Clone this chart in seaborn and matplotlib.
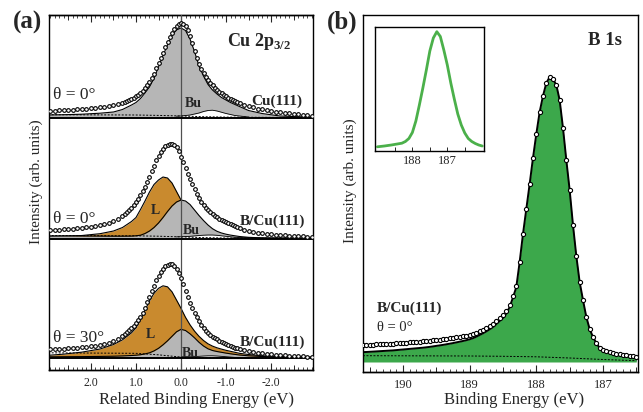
import numpy as np
import matplotlib
matplotlib.use("Agg")
import matplotlib.pyplot as plt
import seaborn as sns
from matplotlib.ticker import MultipleLocator, NullLocator

sns.set_style("white")
plt.rcParams['font.family'] = ['Liberation Serif', 'DejaVu Sans']
plt.rcParams['mathtext.fontset'] = 'custom'
plt.rcParams['mathtext.rm'] = 'Liberation Serif'
plt.rcParams['mathtext.bf'] = 'Liberation Serif:bold'
plt.rcParams['axes.linewidth'] = 1.0
plt.rcParams['axes.edgecolor'] = 'black'

# ---------------- panel (a): Cu 2p3/2, related binding energy (eV) ----------------
DATA_X = [2.9, 2.8, 2.7, 2.6, 2.5, 2.4, 2.3, 2.2, 2.1, 2.0, 1.9, 1.8, 1.7, 1.6, 1.5, 1.4, 1.3,
          1.25, 1.2, 1.15, 1.1, 1.05, 1.0, 0.95, 0.9, 0.85, 0.8, 0.75, 0.7, 0.65, 0.6, 0.55,
          0.5, 0.45, 0.4, 0.35, 0.3, 0.25, 0.2, 0.15, 0.1, 0.05, 0.0,
          -0.05, -0.1, -0.15, -0.2, -0.25, -0.3, -0.35, -0.4, -0.45, -0.5, -0.55, -0.6, -0.65,
          -0.7, -0.75, -0.8, -0.85, -0.9, -0.95, -1.0, -1.05, -1.1, -1.15, -1.2, -1.25,
          -1.3, -1.4, -1.5, -1.6, -1.7, -1.8, -1.9, -2.0, -2.1, -2.2, -2.3, -2.4, -2.5, -2.6,
          -2.7, -2.8, -2.9]

# measured spectra (intensity above each spectrum's base line)
cu111_data = [7.2, 7.5, 7.8, 8.0, 8.2, 8.4, 8.7, 9.0, 9.4, 9.8, 10.3, 10.8, 11.3, 12.0, 12.8, 13.8, 15.2,
              16.3, 17.2, 18.2, 19.3, 20.5, 21.8, 23.0, 25.0, 27.0, 29.7, 32.8, 36.2, 39.7, 44.5, 49.5,
              54.7, 60.0, 65.3, 70.5, 76.0, 80.8, 85.0, 88.5, 91.5, 93.5, 94.7,
              94.2, 92.3, 87.5, 81.5, 75.0, 66.5, 60.0, 53.8, 49.0, 44.7, 41.2, 38.0, 35.3,
              32.7, 30.2, 28.3, 26.5, 24.7, 23.0, 21.6, 20.3, 19.0, 17.8, 16.7, 15.6,
              14.8, 13.3, 12.0, 10.8, 9.5, 8.7, 8.0, 7.3, 6.5, 5.8, 5.2, 4.7, 4.2, 3.7, 3.2, 2.8, 2.5]
bcu_0_data = [8.4, 8.7, 9.0, 9.3, 9.6, 9.9, 10.2, 10.6, 11.1, 11.7, 12.4, 13.2, 14.3, 15.8, 17.5, 19.9, 22.8,
              24.5, 26.4, 28.3, 30.2, 33.3, 36.5, 39.8, 43.2, 47.1, 51.8, 56.6, 61.8, 67.3, 73.0, 78.2,
              82.5, 86.6, 89.8, 92.2, 93.9, 94.9, 95.0, 93.8, 91.2, 87.3, 82.0,
              76.5, 70.8, 65.0, 59.5, 54.2, 49.3, 44.8, 40.8, 37.0, 33.6, 30.8, 28.3, 26.1,
              24.2, 22.7, 21.3, 20.0, 18.8, 17.6, 16.5, 15.4, 14.3, 13.3, 12.4, 11.6,
              10.8, 9.0, 7.6, 6.6, 5.9, 5.3, 4.8, 4.3, 3.8, 3.4, 3.1, 2.8, 2.6, 2.4, 2.2, 2.0, 1.8]
bcu_30_data = [8.9, 9.2, 9.5, 9.8, 10.1, 10.4, 10.6, 11.0, 11.5, 12.0, 12.6, 13.2, 14.3, 15.8, 17.5, 19.8, 22.7,
               24.4, 26.3, 28.2, 30.0, 32.8, 35.7, 38.6, 41.5, 45.3, 50.5, 56.0, 61.6, 67.2, 72.8, 78.0,
               82.0, 86.5, 89.7, 92.0, 93.6, 94.6, 94.6, 92.3, 89.0, 85.0, 80.0,
               74.5, 67.2, 61.0, 55.8, 50.6, 45.6, 41.0, 37.0, 33.6, 30.3, 27.5, 25.2, 23.3,
               21.6, 20.3, 19.0, 17.8, 16.6, 15.5, 14.5, 13.5, 12.4, 11.5, 10.8, 10.2,
               9.6, 8.5, 7.3, 6.4, 5.6, 5.0, 4.5, 4.0, 3.6, 3.2, 2.9, 2.6, 2.4, 2.1, 1.9, 1.7, 1.5]

# fitted components
COMP_X = [2.95, 2.6, 2.2, 1.8, 1.5, 1.3, 1.1, 1.0, 0.9, 0.8, 0.7, 0.6, 0.5, 0.4, 0.3, 0.2, 0.1, 0.0,
          -0.1, -0.2, -0.3, -0.4, -0.5, -0.6, -0.7, -0.8, -0.9, -1.0, -1.1, -1.3, -1.5, -1.8, -2.2, -2.6, -2.95]
cu111_bu = [3.0, 3.3, 3.8, 4.8, 6.0, 8.5, 13.0, 15.5, 19.5, 25.0, 31.0, 39.5, 51.0, 62.5, 73.0, 82.5, 88.0, 90.0,
            87.5, 79.0, 66.5, 52.0, 42.0, 33.5, 28.0, 24.0, 20.5, 18.0, 15.5, 11.5, 7.5, 4.5, 2.0, 1.3, 0.8]
bcu_0_L = [2.0, 2.4, 3.0, 4.8, 7.5, 11.0, 17.0, 21.0, 29.0, 37.5, 46.5, 54.0, 58.5, 61.5, 60.5, 55.5, 47.0, 38.5,
           30.5, 23.5, 17.5, 12.5, 8.5, 5.8, 4.0, 3.0, 2.3, 1.8, 1.4, 1.0, 0.7, 0.5, 0.3, 0.2, 0.1]
bcu_0_bu = [2.6, 2.6, 2.5, 2.4, 2.3, 2.3, 2.4, 2.7, 3.3, 5.0, 7.5, 11.0, 15.5, 21.0, 27.0, 32.5, 36.5, 38.5,
            37.5, 34.0, 28.5, 23.0, 18.0, 13.5, 9.8, 7.2, 5.5, 4.3, 3.4, 2.0, 1.2, 0.6, 0.4, 0.3, 0.2]
bcu_30_L = [3.0, 4.2, 6.2, 9.3, 13.8, 18.5, 25.5, 30.5, 38.5, 48.0, 57.5, 65.0, 70.0, 72.5, 71.5, 66.5, 58.3, 50.0,
            41.0, 33.5, 27.2, 22.0, 17.8, 14.5, 12.2, 10.5, 9.2, 8.0, 7.0, 5.0, 3.8, 2.5, 1.8, 1.5, 1.3]
bcu_30_bu = [1.5, 1.6, 1.7, 1.9, 2.1, 2.4, 2.8, 3.1, 3.6, 4.4, 5.5, 7.4, 10.0, 13.5, 17.5, 22.0, 26.5, 29.0,
             27.8, 24.5, 20.5, 16.0, 12.3, 9.5, 7.8, 6.8, 6.0, 5.2, 4.5, 3.3, 2.5, 1.8, 1.3, 1.0, 0.8]

BUMP_X = [0.1, 0.0, -0.2, -0.4, -0.5, -0.6, -0.7, -0.8, -1.0, -1.2, -1.5]
cu111_bump = [1.8, 2.0, 3.0, 5.0, 6.5, 7.5, 7.8, 7.0, 4.5, 2.5, 1.0]
bcu_0_bump = [1.6, 1.7, 2.2, 3.0, 3.3, 3.5, 3.5, 3.2, 2.2, 1.2, 0.5]
bcu_30_bump = [1.0, 1.1, 1.5, 2.0, 2.3, 2.5, 2.5, 2.3, 1.6, 0.9, 0.4]

BG_X = [2.95, 1.0, 0.5, 0.0, -0.5, -1.0, -2.95]
cu111_bg = [3.3, 3.0, 2.6, 2.0, 1.3, 0.9, 0.3]
bcu_0_bg = [3.0, 2.7, 2.3, 1.6, 0.9, 0.5, 0.1]
bcu_30_bg = [5.5, 5.0, 3.5, 1.2, 0.6, 0.4, 0.1]

A_TICKS = [2, 1, 0, -1, -2]
A_TICKLABELS = ["2.0", "1.0", "0.0", "-1.0", "-2.0"]
A_HALF = [2.5, 1.5, 0.5, -0.5, -1.5, -2.5]

# ---------------- panel (b): B 1s ----------------
B_X = [190.6, 190.55, 190.5, 190.45, 190.4, 190.35, 190.3, 190.25, 190.2, 190.15, 190.1, 190.05, 190.0,
       189.95, 189.9, 189.85, 189.8, 189.75, 189.7, 189.65, 189.6, 189.55, 189.5,
       189.45, 189.4, 189.35, 189.3, 189.25, 189.2, 189.15, 189.1, 189.05, 189.0,
       188.95, 188.9, 188.85, 188.8, 188.75, 188.7, 188.65, 188.6, 188.55, 188.5,
       188.45, 188.4, 188.35, 188.3, 188.25, 188.2, 188.15, 188.1, 188.05, 188.0,
       187.95, 187.9, 187.85, 187.8, 187.75, 187.7, 187.65, 187.6, 187.55, 187.5,
       187.45, 187.4, 187.35, 187.3, 187.25, 187.2, 187.15, 187.1, 187.05, 187.0,
       186.95, 186.9, 186.85, 186.8, 186.75, 186.7, 186.65, 186.6, 186.55, 186.5]
b1s_data = [17.0, 17.0, 17.0, 17.0, 17.5, 17.5, 17.5, 18.0, 18.0, 18.0, 18.5, 18.5, 19.0,
            19.0, 19.5, 19.5, 20.0, 20.0, 20.5, 20.5, 21.0, 21.5, 22.0,
            22.0, 22.5, 23.0, 23.5, 24.0, 24.5, 25.0, 25.5, 26.0, 27.0,
            28.0, 29.0, 31.0, 32.0, 34.0, 36.0, 38.0, 41.0, 44.0, 47.0,
            51.0, 57.0, 66.0, 76.0, 100.0, 128.0, 153.0, 178.0, 204.0, 228.0,
            250.0, 266.0, 279.0, 285.0, 283.0, 277.0, 262.0, 234.0, 202.0, 172.0,
            137.0, 106.0, 80.0, 62.0, 45.0, 33.0, 25.0, 19.0, 14.0, 11.5,
            10.5, 9.5, 8.5, 8.0, 7.5, 7.0, 6.5, 6.0, 5.5, 5.0]
b1s_fit = [9.9, 10.0, 10.2, 10.4, 10.6, 10.8, 11.0, 11.2, 11.4, 11.6, 11.9, 12.2, 12.5,
           12.8, 13.1, 13.4, 13.7, 14.0, 14.3, 14.7, 15.1, 15.6, 16.1,
           16.6, 17.1, 17.7, 18.3, 18.9, 19.6, 20.3, 21.0, 21.8, 22.7,
           23.8, 25.3, 27.0, 28.7, 30.6, 32.7, 35.0, 38.0, 41.0, 44.0,
           48.5, 55.0, 64.5, 75.0, 100.0, 128.0, 153.0, 178.0, 204.0, 228.0,
           250.0, 266.0, 279.0, 285.0, 283.0, 277.0, 262.0, 234.0, 202.0, 172.0,
           137.0, 106.0, 80.0, 62.0, 45.0, 33.0, 25.0, 19.0, 14.0, 11.5,
           10.5, 9.5, 8.5, 8.0, 7.5, 7.0, 6.5, 6.0, 5.5, 5.0]
BG_B_X = [190.6, 189.0, 188.5, 188.0, 187.5, 187.0, 186.5]
b1s_bg = [6.3, 6.0, 5.7, 5.2, 4.0, 2.5, 1.3]
B_TICKS = [190, 189, 188, 187]
B_HALF = [190.5, 189.5, 188.5, 187.5, 186.5]

# inset
INSET_X = [189.0, 188.9, 188.8, 188.7, 188.6, 188.5, 188.4, 188.3, 188.2, 188.1, 188.0,
           187.9, 187.8, 187.7, 187.6, 187.5, 187.4, 187.3, 187.2, 187.1, 187.0,
           186.9, 186.8, 186.7, 186.6, 186.5, 186.4, 186.3, 186.2, 186.1, 186.0]
inset_y = [4.2, 4.6, 5.0, 5.5, 6.0, 6.6, 7.2, 7.8, 9.5, 12.5, 18.5,
           30.0, 46.0, 63.0, 81.0, 100.0, 113.0, 119.3, 114.5, 101.0, 86.0,
           68.0, 52.0, 37.0, 26.0, 18.0, 12.5, 9.5, 7.5, 6.0, 5.0]
INSET_TICKS = [188.5, 188.0, 187.5, 187.0, 186.5]
INSET_TICKLABELS = ["", "188", "", "187", ""]

ORANGE = '#c98a2e'
GRAY = '#b6b6b6'
GREEN = '#3ca84b'
INSET_GREEN = '#4bb04a'

A_OFFSETS = [252.0, 131.5, 11.7]
B_BASE = 10.0

spectra = [
    (A_OFFSETS[0], cu111_data, None, cu111_bu, cu111_bump, cu111_bg),
    (A_OFFSETS[1], bcu_0_data, bcu_0_L, bcu_0_bu, bcu_0_bump, bcu_0_bg),
    (A_OFFSETS[2], bcu_30_data, bcu_30_L, bcu_30_bu, bcu_30_bump, bcu_30_bg),
]

fig = plt.figure(figsize=(6.43, 4.12), dpi=100)
ax = fig.add_axes([0.0762, 0.1019, 0.4106, 0.8617])
axb = fig.add_axes([0.5645, 0.0971, 0.4277, 0.8665])
axi = fig.add_axes([0.5832, 0.6335, 0.1695, 0.301])

cx = np.array(COMP_X)
for off, data, L, bu, bump, bg in spectra:
    if L is not None:
        ax.fill_between(cx, off, off + np.array(L), color=ORANGE, lw=0, zorder=2)
        sns.lineplot(x=cx, y=off + np.array(L), ax=ax, color='black', lw=0.8,
                     estimator=None, sort=False, zorder=2.1)
    ax.fill_between(cx, off, off + np.array(bu), color=GRAY, lw=0, zorder=2.2)
    sns.lineplot(x=cx, y=off + np.array(bu), ax=ax, color='black', lw=0.8,
                 estimator=None, sort=False, zorder=2.3)
    ax.fill_between(BUMP_X, off, off + np.array(bump), color='white', lw=0, zorder=2.4)
    sns.lineplot(x=BUMP_X, y=off + np.array(bump), ax=ax, color='black', lw=0.6,
                 estimator=None, sort=False, zorder=2.5)
    ax.plot(BG_X, off + np.array(bg), color='black', lw=0.7, ls=(0, (2, 1.6)), zorder=4)
    ax.axhline(off, color='black', lw=1.4, zorder=4)
    sns.scatterplot(x=DATA_X, y=off + np.array(data), ax=ax, marker='o', s=7,
                    facecolor='white', edgecolor='black', linewidth=0.8, zorder=5)

ax.axvline(0, color='#505050', lw=0.9, zorder=3.5)
ax.set_xlim(2.933, -2.933)
ax.set_ylim(0, 355)
ax.set_yticks([])
ax.set_xticks(A_TICKS, A_TICKLABELS)
ax.xaxis.set_minor_locator(MultipleLocator(0.1))
ax.tick_params(axis='x', which='both', direction='in', top=True, bottom=True)
ax.tick_params(axis='x', which='major', length=4.8, width=0.8, labelsize=8.5, pad=5)
ax.tick_params(axis='x', which='minor', length=2.3, width=0.6)
for side in ('bottom', 'top'):
    sec = ax.secondary_xaxis(side)
    sec.set_xticks(A_HALF)
    sec.xaxis.set_minor_locator(NullLocator())
    sec.tick_params(direction='in', length=3.3, width=0.7, labelbottom=False, labeltop=False)
ax.set_xlabel("Related Binding Energy (eV)", fontsize=12)
ax.xaxis.set_label_coords(0.56, -0.062)
ax.set_ylabel("Intensity (arb. units)", fontsize=11)
ax.yaxis.set_label_coords(-0.022, 0.53)

tA = ax.transAxes
ax.text(0.674, 0.9127, r"Cu 2p$_{\mathbf{3/2}}$", transform=tA, fontsize=13, fontweight='bold', va='baseline')
ax.text(0.015, 0.7625, "θ = 0°", transform=tA, fontsize=12.5, va='baseline')
ax.text(0.958, 0.748, "Cu(111)", transform=tA, fontsize=11, fontweight='bold', ha='right', va='baseline')
ax.text(0.547, 0.7417, "Bu", transform=tA, fontsize=10, fontweight='bold', ha='center', va='baseline', zorder=6)
ax.text(0.015, 0.413, "θ = 0°", transform=tA, fontsize=12.5, va='baseline')
ax.text(0.4015, 0.4394, "L", transform=tA, fontsize=10, fontweight='bold', ha='center', va='baseline', zorder=6)
ax.text(0.970, 0.4103, "B/Cu(111)", transform=tA, fontsize=11, fontweight='bold', ha='right', va='baseline')
ax.text(0.540, 0.383, "Bu", transform=tA, fontsize=10, fontweight='bold', ha='center', va='baseline', zorder=6)
ax.text(0.015, 0.0797, "θ = 30°", transform=tA, fontsize=12.5, va='baseline')
ax.text(0.386, 0.091, "L", transform=tA, fontsize=10, fontweight='bold', ha='center', va='baseline', zorder=6)
ax.text(0.970, 0.0676, "B/Cu(111)", transform=tA, fontsize=11, fontweight='bold', ha='right', va='baseline')
ax.text(0.536, 0.0357, "Bu", transform=tA, fontsize=10, fontweight='bold', ha='center', va='baseline', zorder=6)

# panel (b)
bx = np.array(B_X)
axb.fill_between(bx, B_BASE, B_BASE + np.array(b1s_fit), color=GREEN, lw=0, zorder=2)
sns.lineplot(x=bx, y=B_BASE + np.array(b1s_fit), ax=axb, color='black', lw=1.4,
             estimator=None, sort=False, zorder=3)
axb.plot(BG_B_X, B_BASE + np.array(b1s_bg), color='black', lw=0.7, ls=(0, (2, 1.6)), zorder=4)
sns.scatterplot(x=bx, y=B_BASE + np.array(b1s_data), ax=axb, marker='o', s=9,
                facecolor='white', edgecolor='black', linewidth=0.8, zorder=5)
axb.set_xlim(190.6, 186.475)
axb.set_ylim(0, 357)
axb.set_yticks([])
axb.set_xticks(B_TICKS, [str(t) for t in B_TICKS])
axb.xaxis.set_minor_locator(MultipleLocator(0.1))
axb.tick_params(axis='x', which='both', direction='in', top=False, bottom=True)
axb.tick_params(axis='x', which='major', length=4.8, width=0.8, labelsize=9, pad=5)
axb.tick_params(axis='x', which='minor', length=2.3, width=0.6)
secb = axb.secondary_xaxis('bottom')
secb.set_xticks(B_HALF)
secb.xaxis.set_minor_locator(NullLocator())
secb.tick_params(direction='in', length=3.3, width=0.7, labelbottom=False)
axb.set_xlabel("Binding Energy (eV)", fontsize=12)
axb.xaxis.set_label_coords(0.551, -0.056)
axb.set_ylabel("Intensity (arb. units)", fontsize=11)
axb.yaxis.set_label_coords(-0.022, 0.535)
tB = axb.transAxes
axb.text(0.88, 0.916, "B 1s", transform=tB, fontsize=13.5, fontweight='bold', ha='center', va='baseline')
axb.text(0.051, 0.169, "B/Cu(111)", transform=tB, fontsize=11, fontweight='bold', va='baseline')
axb.text(0.051, 0.116, "θ = 0°", transform=tB, fontsize=10.5, va='baseline')

# inset
sns.lineplot(x=INSET_X, y=inset_y, ax=axi, color=INSET_GREEN, lw=2.0, estimator=None, sort=False)
axi.set_xlim(189.07, 185.95)
axi.set_ylim(0, 124)
axi.set_yticks([])
axi.set_xticks(INSET_TICKS, INSET_TICKLABELS)
axi.tick_params(axis='x', direction='in', length=3, width=0.7, labelsize=9, pad=3, bottom=True)
axi.set_xlabel("")
axi.set_ylabel("")

fig.text(0.020, 0.9296, "(a)", fontsize=18, fontweight='bold', va='baseline')
fig.text(0.5086, 0.9296, "(b)", fontsize=18, fontweight='bold', va='baseline')

fig.savefig("out.png", dpi=100)
